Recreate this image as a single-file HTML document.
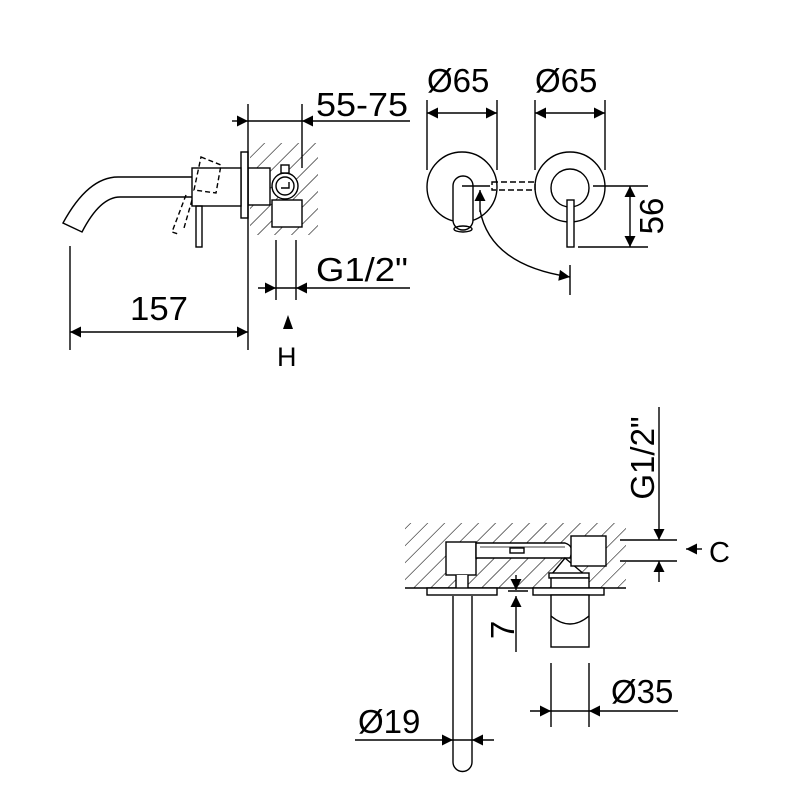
<!DOCTYPE html>
<html><head><style>html,body{margin:0;padding:0;background:#fff}svg{display:block}text{font-family:"Liberation Sans",sans-serif;fill:#000}</style></head>
<body>
<svg width="800" height="800" viewBox="0 0 800 800" xmlns="http://www.w3.org/2000/svg">
<defs>
<pattern id="h" patternUnits="userSpaceOnUse" width="12" height="12" patternTransform="rotate(45)">
<line x1="0" y1="0" x2="0" y2="12" stroke="#000" stroke-width="1.1"/>
</pattern>
<marker id="a" viewBox="0 0 10 10" refX="10" refY="5" markerWidth="16" markerHeight="11" markerUnits="userSpaceOnUse" orient="auto"><path d="M0,0L10,5L0,10z" fill="#000"/></marker>
</defs>
<g fill="none" stroke="#000" stroke-width="1.4">
<!-- TOP LEFT -->
<rect x="250" y="143" width="68" height="92" fill="url(#h)" stroke="none"/>
<rect x="272" y="200" width="30" height="27" fill="#fff" stroke="#000"/>
<rect x="248" y="168" width="22" height="37" fill="#fff"/>
<circle cx="285" cy="186" r="13" fill="#fff"/>
<circle cx="285" cy="186" r="9"/>
<path d="M281,188h8v-6" />
<rect x="281" y="165" width="8" height="8" fill="#fff"/>
<rect x="241" y="152" width="7" height="66" fill="#fff"/>
<rect x="192" y="168" width="49" height="38" fill="#fff"/>
<path d="M192,177H118Q88,177 63,223L82,232Q100,197 120,197H192"/>
<rect x="196" y="206" width="6" height="41"/>
<path d="M201,157l20,8-5,28-22,-3z" stroke-dasharray="5,3"/>
<path d="M186,195l-14,37 6,2" stroke-dasharray="5,3"/>
<path d="M192,200l-8,28" stroke-dasharray="5,3"/>
<line x1="248" y1="104" x2="248" y2="350"/>
<line x1="302" y1="104" x2="302" y2="168"/>
<line x1="232" y1="121" x2="248" y2="121" marker-end="url(#a)"/>
<line x1="248" y1="121" x2="302" y2="121"/>
<line x1="410" y1="121" x2="302" y2="121" marker-end="url(#a)"/>
<line x1="276" y1="240" x2="276" y2="300"/>
<line x1="296" y1="240" x2="296" y2="300"/>
<line x1="258" y1="288" x2="276" y2="288" marker-end="url(#a)"/>
<line x1="276" y1="288" x2="296" y2="288"/>
<line x1="410" y1="288" x2="296" y2="288" marker-end="url(#a)"/>
<line x1="70" y1="246" x2="70" y2="350"/>
<line x1="160" y1="332" x2="70" y2="332" marker-end="url(#a)"/>
<line x1="160" y1="332" x2="248" y2="332" marker-end="url(#a)"/>
<!-- TOP RIGHT -->
<circle cx="462" cy="187" r="35"/>
<rect x="453" y="176" width="20" height="54" rx="10" fill="#fff"/>
<ellipse cx="463" cy="229" rx="9" ry="3"/>
<line x1="462" y1="186" x2="490" y2="186"/>
<rect x="492" y="182" width="43" height="8" stroke-dasharray="6,3"/>
<circle cx="570" cy="187" r="35"/>
<circle cx="570" cy="188" r="19"/>
<rect x="567" y="200" width="7" height="47" fill="#fff"/>
<line x1="427" y1="100" x2="427" y2="170"/>
<line x1="497" y1="100" x2="497" y2="170"/>
<line x1="535" y1="100" x2="535" y2="170"/>
<line x1="605" y1="100" x2="605" y2="170"/>
<line x1="462" y1="113" x2="427" y2="113" marker-end="url(#a)"/>
<line x1="462" y1="113" x2="497" y2="113" marker-end="url(#a)"/>
<line x1="570" y1="113" x2="535" y2="113" marker-end="url(#a)"/>
<line x1="570" y1="113" x2="605" y2="113" marker-end="url(#a)"/>
<line x1="593" y1="186" x2="648" y2="186"/>
<line x1="578" y1="247" x2="648" y2="247"/>
<line x1="630" y1="216" x2="630" y2="186" marker-end="url(#a)"/>
<line x1="630" y1="216" x2="630" y2="247" marker-end="url(#a)"/>
<path d="M480,210Q490,265 570,277" marker-end="url(#a)"/>
<line x1="480" y1="212" x2="480" y2="190" marker-end="url(#a)"/>
<line x1="570" y1="265" x2="570" y2="295"/>
<!-- BOTTOM -->
<rect x="405" y="523" width="221" height="65" fill="url(#h)" stroke="none"/>
<line x1="405" y1="588" x2="626" y2="588"/>
<rect x="446" y="542" width="30" height="33" fill="#fff"/>
<rect x="456" y="575" width="12" height="13" fill="#fff" stroke="none"/>
<line x1="456" y1="575" x2="456" y2="588"/><line x1="468" y1="575" x2="468" y2="588"/>
<path d="M476,543H565Q575,546 570,558H476Z" fill="#fff"/>
<path d="M480,547H565" stroke-width="0.8"/>
<rect x="510" y="548" width="14" height="5" fill="#fff"/>
<path d="M565,558L585,575H551Z" fill="#fff"/>
<rect x="571" y="536" width="35" height="30" fill="#fff"/>
<rect x="549" y="573" width="40" height="5" fill="#fff"/>
<rect x="551" y="578" width="38" height="10" fill="#fff"/>
<rect x="427" y="588" width="70" height="7" fill="#fff"/>
<rect x="533" y="588" width="71" height="7" fill="#fff"/>
<rect x="551" y="595" width="38" height="52" fill="#fff"/>
<path d="M551,616Q570,632 589,616"/>
<path d="M453,596V762a9.5,9.5 0 0 0 19,0V596" fill="#fff"/>
<line x1="659" y1="407" x2="659" y2="540" marker-end="url(#a)"/>
<line x1="659" y1="582" x2="659" y2="561" marker-end="url(#a)"/>
<line x1="620" y1="540" x2="677" y2="540"/>
<line x1="620" y1="561" x2="677" y2="561"/>
<line x1="702" y1="549" x2="686" y2="549" marker-end="url(#a)"/>
<line x1="516" y1="575" x2="516" y2="590" marker-end="url(#a)"/>
<line x1="516" y1="652" x2="516" y2="596" marker-end="url(#a)"/>
<line x1="508" y1="591" x2="528" y2="591"/>
<line x1="551" y1="663" x2="551" y2="727"/>
<line x1="589" y1="663" x2="589" y2="727"/>
<line x1="530" y1="711" x2="551" y2="711" marker-end="url(#a)"/>
<line x1="551" y1="711" x2="589" y2="711"/>
<line x1="678" y1="711" x2="589" y2="711" marker-end="url(#a)"/>
<line x1="355" y1="740" x2="453" y2="740" marker-end="url(#a)"/>
<line x1="453" y1="740" x2="472" y2="740"/>
<line x1="494" y1="740" x2="472" y2="740" marker-end="url(#a)"/>
</g>
<path d="M283,329L288,315L293,329Z" fill="#000"/>
<g font-size="33">
<text x="316" y="116" textLength="92" lengthAdjust="spacingAndGlyphs">55-75</text>
<text x="316" y="281" textLength="92" lengthAdjust="spacingAndGlyphs">G1/2"</text>
<text x="130" y="320" textLength="58" lengthAdjust="spacingAndGlyphs">157</text>
<text x="277" y="366" font-size="27">H</text>
<text x="427" y="92">Ø65</text>
<text x="535" y="92">Ø65</text>
<text transform="translate(663,216) rotate(-90)" text-anchor="middle">56</text>
<text transform="translate(654,458) rotate(-90)" text-anchor="middle">G1/2"</text>
<text x="709" y="562" font-size="29">C</text>
<text transform="translate(514,630) rotate(-90)" text-anchor="middle">7</text>
<text x="611" y="703">Ø35</text>
<text x="358" y="733">Ø19</text>
</g>
</svg>
</body></html>
